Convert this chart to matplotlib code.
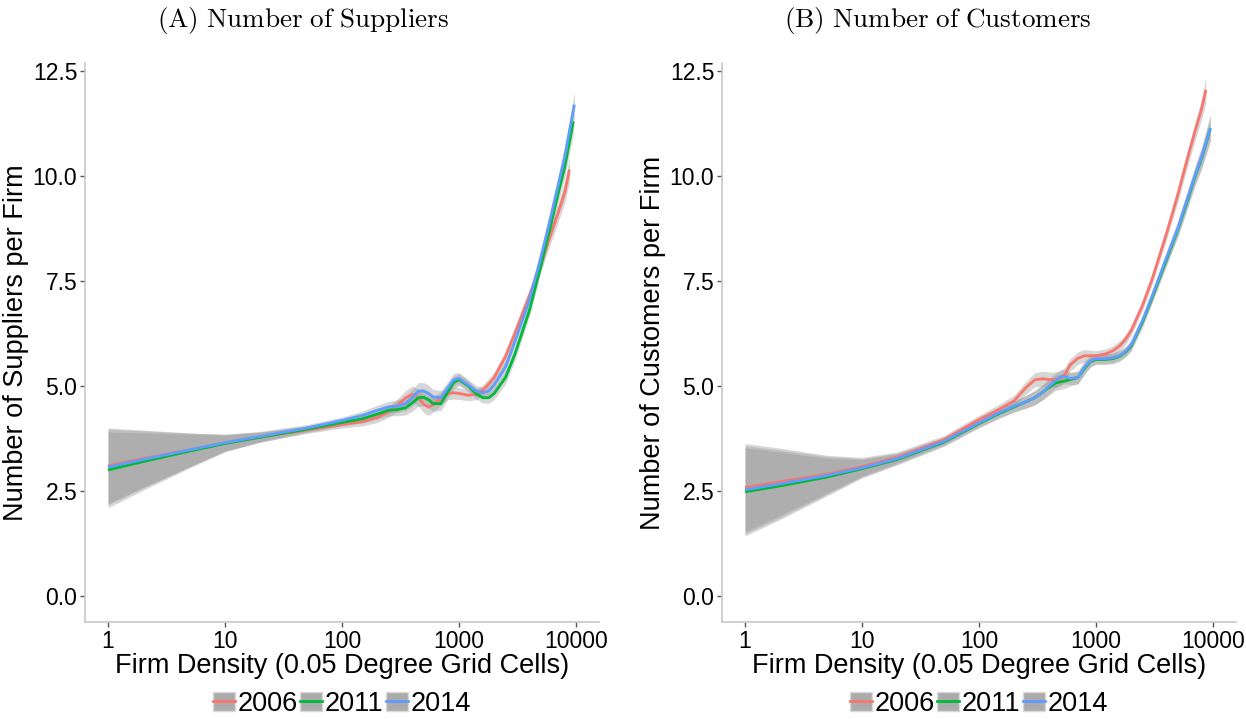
import numpy as np
import matplotlib
matplotlib.use("Agg")
import matplotlib.pyplot as plt
from matplotlib.patches import Patch
from matplotlib.lines import Line2D

plt.rcParams['font.family'] = ['Liberation Sans', 'DejaVu Sans']
plt.rcParams['mathtext.fontset'] = 'cm'

years = ['2006', '2011', '2014']
colors = ['#F8766D', '#00BA38', '#619CFF']

# firm density grid (0.05 degree cells)
density = [1, 2, 5, 10, 20, 50, 100, 150, 200, 250, 300, 350, 400, 450, 500, 550,
           600, 700, 800, 900, 1000, 1200, 1400, 1600, 1800, 2000, 2500, 3000,
           4000, 5000, 6000, 7000, 8000]

# (A) suppliers per firm
sup_2006 = [3.10, 3.27, 3.48, 3.65, 3.78, 3.95, 4.08, 4.15, 4.25, 4.38, 4.55, 4.72,
            4.80, 4.72, 4.56, 4.50, 4.55, 4.70, 4.82, 4.84, 4.82, 4.78, 4.80, 4.90,
            5.05, 5.20, 5.70, 6.25, 7.15, 7.90, 8.55, 9.10, 9.60]
sup_2011 = [3.00, 3.20, 3.45, 3.63, 3.78, 3.97, 4.13, 4.22, 4.33, 4.42, 4.44, 4.48,
            4.60, 4.72, 4.73, 4.67, 4.58, 4.58, 4.85, 5.08, 5.15, 5.00, 4.82, 4.72,
            4.72, 4.82, 5.20, 5.75, 6.80, 7.85, 8.75, 9.55, 10.20]
sup_2014 = [3.07, 3.25, 3.48, 3.65, 3.80, 4.00, 4.18, 4.30, 4.42, 4.50, 4.52, 4.58,
            4.72, 4.88, 4.88, 4.82, 4.74, 4.72, 4.95, 5.15, 5.18, 5.02, 4.88, 4.84,
            4.88, 5.02, 5.45, 6.05, 7.05, 8.05, 8.95, 9.75, 10.45]
sup_end_x = [8800, 9500, 9700]
sup_end_y = [10.15, 11.30, 11.70]
sup_se = [0.90, 0.68, 0.40, 0.20, 0.12, 0.08, 0.08, 0.10, 0.12, 0.13, 0.15, 0.17,
          0.20, 0.20, 0.20, 0.20, 0.18, 0.17, 0.15, 0.15, 0.14, 0.13, 0.13, 0.13,
          0.13, 0.14, 0.15, 0.15, 0.15, 0.17, 0.20, 0.22, 0.25]
sup_end_se = 0.30

# (B) customers per firm
cus_2006 = [2.58, 2.72, 2.90, 3.08, 3.30, 3.72, 4.20, 4.45, 4.65, 4.95, 5.15, 5.17,
            5.15, 5.15, 5.17, 5.30, 5.50, 5.66, 5.72, 5.72, 5.72, 5.76, 5.84, 5.96,
            6.12, 6.32, 6.92, 7.52, 8.62, 9.55, 10.38, 11.05, 11.60]
cus_2011 = [2.48, 2.62, 2.83, 3.03, 3.25, 3.66, 4.10, 4.35, 4.50, 4.62, 4.72, 4.85,
            4.97, 5.07, 5.10, 5.12, 5.15, 5.20, 5.42, 5.58, 5.63, 5.63, 5.65, 5.71,
            5.81, 5.95, 6.52, 7.08, 8.00, 8.72, 9.38, 9.97, 10.42]
cus_2014 = [2.53, 2.67, 2.87, 3.05, 3.27, 3.68, 4.12, 4.37, 4.52, 4.62, 4.72, 4.85,
            5.00, 5.13, 5.22, 5.22, 5.18, 5.20, 5.45, 5.60, 5.65, 5.65, 5.67, 5.73,
            5.83, 5.98, 6.56, 7.12, 8.05, 8.75, 9.43, 10.00, 10.45]
cus_end_x = [8700, 9500, 9500]
cus_end_y = [12.05, 11.12, 11.15]
cus_se = [1.05, 0.80, 0.45, 0.22, 0.13, 0.10, 0.10, 0.12, 0.13, 0.15, 0.17, 0.18,
          0.18, 0.18, 0.18, 0.17, 0.15, 0.15, 0.15, 0.13, 0.12, 0.12, 0.12, 0.12,
          0.12, 0.12, 0.12, 0.13, 0.15, 0.18, 0.20, 0.22, 0.25]
cus_end_se = 0.30

panels = [
    dict(title=r'$\mathrm{(A)\ Number\ of\ Suppliers}$', ylabel='Number of Suppliers per Firm',
         series=[sup_2006, sup_2011, sup_2014], end_x=sup_end_x, end_y=sup_end_y,
         se=sup_se, end_se=sup_end_se, rect=[85 / 1246, 1 - 622 / 719, 514 / 1246, 559 / 719],
         cx=303 / 1246),
    dict(title=r'$\mathrm{(B)\ Number\ of\ Customers}$', ylabel='Number of Customers per Firm',
         series=[cus_2006, cus_2011, cus_2014], end_x=cus_end_x, end_y=cus_end_y,
         se=cus_se, end_se=cus_end_se, rect=[722 / 1246, 1 - 622 / 719, 514 / 1246, 559 / 719],
         cx=938 / 1246),
]

fig = plt.figure(figsize=(12.46, 7.19), dpi=100)

for p in panels:
    ax = fig.add_axes(p['rect'])
    for k, vals in enumerate(p['series']):
        x = np.array(density + [p['end_x'][k]], dtype=float)
        y = np.array(vals + [p['end_y'][k]])
        se = np.array(p['se'] + [p['end_se']])
        ax.fill_between(x, y - se, y + se, color='#999999', alpha=0.4, lw=0)
    for k, vals in enumerate(p['series']):
        x = np.array(density + [p['end_x'][k]], dtype=float)
        y = np.array(vals + [p['end_y'][k]])
        ax.plot(x, y, color=colors[k], lw=2.0, solid_capstyle='butt')

    ax.set_xscale('log')
    ax.set_xlim(10 ** -0.197, 10 ** 4.197)
    ax.set_ylim(-0.62, 12.69)
    ax.set_xticks([1, 10, 100, 1000, 10000])
    ax.set_xticklabels(['1', '10', '100', '1000', '10000'])
    ax.minorticks_off()
    ax.set_yticks([0, 2.5, 5, 7.5, 10, 12.5])
    ax.set_yticklabels(['0.0', '2.5', '5.0', '7.5', '10.0', '12.5'])
    for s in ['top', 'right']:
        ax.spines[s].set_visible(False)
    for s in ['left', 'bottom']:
        ax.spines[s].set_color('#c8c8c8')
        ax.spines[s].set_linewidth(1.2)
    ax.tick_params(length=3.5, width=1, color='#555555', labelsize=16.5, labelcolor='black', pad=2)
    ax.set_xlabel('Firm Density (0.05 Degree Grid Cells)', fontsize=19.5, labelpad=0)
    ax.set_ylabel(p['ylabel'], fontsize=19.5, labelpad=3)

    fig.text(p['cx'], 1 - 20 / 719, p['title'], ha='center', va='center', fontsize=19.5)

    rect = p['rect']
    handles = [(Patch(facecolor='#ababab', edgecolor='#d9d9d9', lw=1),
                Line2D([], [], color=c, lw=2)) for c in colors]
    fig.legend(handles, years, loc='center',
               bbox_to_anchor=(rect[0] + rect[2] / 2, 1 - 704 / 719),
               ncol=3, frameon=False, fontsize=19.5, handlelength=0.8, handleheight=0.75,
               handletextpad=0.1, columnspacing=0.1, borderpad=0)

fig.savefig('out.png', dpi=100)
